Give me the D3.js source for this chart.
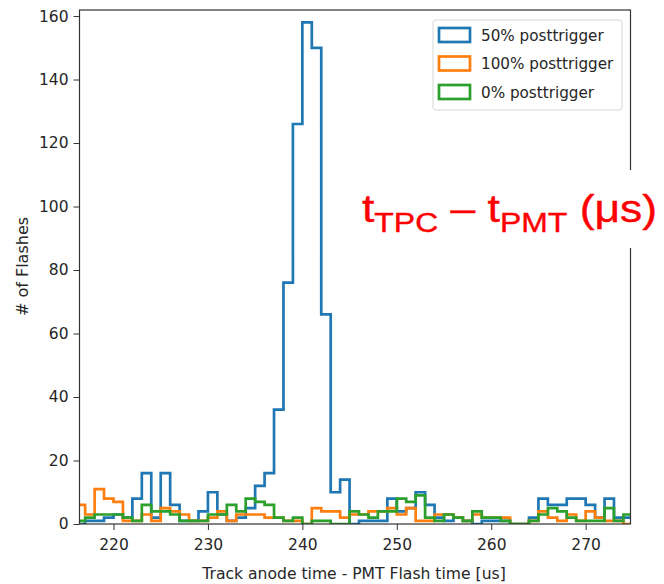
<!DOCTYPE html>
<html>
<head>
<meta charset="utf-8">
<script src="https://cdn.jsdelivr.net/npm/d3@7"></script>
<style>
    body { margin: 0; background: #fff; }
    svg { display: block; }
</style>
</head>
<body>
<svg id="chart"></svg>
<script>
"use strict";

// histogram counts per 1 us bin, first bin starts at 216 us
const binStart = 216;
const binWidth = 1;
const counts50 = [0, 1, 1, 2, 3, 2, 8, 16, 2, 16, 6, 1, 1, 4, 10, 3, 1, 2, 5, 12,
    16, 36, 76, 126, 158, 150, 66, 10, 14, 0, 1, 1, 1, 8, 4, 5, 10, 6, 2, 1,
    2, 1, 0, 1, 1, 1, 0, 0, 2, 8, 6, 6, 8, 8, 6, 2, 8, 2, 2];
const counts100 = [6, 3, 11, 8, 7, 1, 1, 3, 1, 5, 4, 3, 1, 1, 2, 4, 1, 3, 3, 3,
    2, 2, 1, 1, 0, 5, 4, 4, 2, 3, 3, 4, 4, 5, 3, 5, 1, 1, 3, 3,
    2, 1, 3, 2, 2, 2, 0, 0, 1, 4, 2, 1, 3, 1, 4, 2, 1, 1, 0];
const counts0 = [1, 2, 3, 3, 3, 2, 1, 6, 4, 4, 3, 1, 1, 1, 3, 3, 6, 4, 8, 7,
    6, 2, 1, 2, 0, 1, 1, 0, 0, 4, 3, 2, 4, 4, 8, 7, 9, 2, 1, 3,
    2, 1, 4, 2, 2, 1, 0, 0, 1, 3, 5, 4, 2, 1, 1, 1, 5, 1, 3];

const seriesNames = ["50% posttrigger", "100% posttrigger", "0% posttrigger"];
const seriesColors = ["#1f77b4", "#ff7f0e", "#2ca02c"];
const xTicks = [220, 230, 240, 250, 260, 270];
const yTicks = [0, 20, 40, 60, 80, 100, 120, 140, 160];

const width = 664;
const height = 584;
const plot = { left: 79.5, right: 630.5, top: 10, bottom: 524 };

const svg = d3.select("#chart")
    .attr("width", width)
    .attr("height", height);

const x = d3.scaleLinear().domain([216.4, 274.75]).range([plot.left, plot.right]);
const y = d3.scaleLinear().domain([0, 161.9]).range([plot.bottom, plot.top]);

svg.append("clipPath")
    .attr("id", "plot-clip")
    .append("rect")
    .attr("x", plot.left)
    .attr("y", plot.top - 2)
    .attr("width", plot.right - plot.left)
    .attr("height", plot.bottom - plot.top + 2);

// step outline like matplotlib histtype="step"
function stepPoints(counts) {
    let pts = [[binStart, 0]];
    counts.forEach((c, i) => {
        pts.push([binStart + i * binWidth, c]);
        pts.push([binStart + (i + 1) * binWidth, c]);
    });
    pts.push([binStart + counts.length * binWidth, 0]);
    return pts;
}

const line = d3.line()
    .x(d => x(d[0]))
    .y(d => y(d[1]));

const allCounts = [counts50, counts100, counts0];

svg.append("g")
    .attr("clip-path", "url(#plot-clip)")
    .selectAll("path")
    .data(allCounts)
    .enter()
    .append("path")
    .attr("d", d => line(stepPoints(d)))
    .attr("fill", "none")
    .attr("stroke", (d, i) => seriesColors[i])
    .attr("stroke-width", 2.7)
    .attr("stroke-linejoin", "miter");

// axes
const xAxis = svg.append("g")
    .attr("transform", `translate(0,${plot.bottom})`)
    .call(d3.axisBottom(x).tickValues(xTicks).tickSize(6).tickPadding(9));

const yAxis = svg.append("g")
    .attr("transform", `translate(${plot.left},0)`)
    .call(d3.axisLeft(y).tickValues(yTicks).tickSize(6).tickPadding(5));

[xAxis, yAxis].forEach(ax => {
    ax.select(".domain").remove();
    ax.selectAll("line").attr("stroke", "#333");
    ax.selectAll("text")
        .attr("fill", "#262626")
        .style("font-family", "DejaVu Sans")
        .style("font-size", "15.5px");
});

// frame
svg.append("rect")
    .attr("x", plot.left)
    .attr("y", plot.top)
    .attr("width", plot.right - plot.left)
    .attr("height", plot.bottom - plot.top)
    .attr("fill", "none")
    .attr("stroke", "#333")
    .attr("stroke-width", 1.2);

svg.append("text")
    .attr("x", 354)
    .attr("y", 579)
    .attr("text-anchor", "middle")
    .attr("fill", "#262626")
    .style("font-family", "DejaVu Sans")
    .style("font-size", "15.6px")
    .text("Track anode time - PMT Flash time [us]");

svg.append("text")
    .attr("transform", "translate(28,266.5) rotate(-90)")
    .attr("text-anchor", "middle")
    .attr("fill", "#262626")
    .style("font-family", "DejaVu Sans")
    .style("font-size", "16px")
    .text("# of Flashes");

// legend
const legend = svg.append("g").attr("transform", "translate(433,20)");
legend.append("rect")
    .attr("width", 189)
    .attr("height", 90)
    .attr("rx", 3)
    .attr("fill", "#fff")
    .attr("fill-opacity", 0.8)
    .attr("stroke", "#d6d6d6");

const items = legend.selectAll(".item")
    .data(seriesNames)
    .enter()
    .append("g")
    .attr("class", "item")
    .attr("transform", (d, i) => `translate(6,${15 + i * 28.5})`);

items.append("rect")
    .attr("x", 0)
    .attr("y", -7)
    .attr("width", 31)
    .attr("height", 14)
    .attr("fill", "none")
    .attr("stroke", (d, i) => seriesColors[i])
    .attr("stroke-width", 2.7);

items.append("text")
    .attr("x", 42)
    .attr("y", 5.5)
    .attr("fill", "#262626")
    .style("font-family", "DejaVu Sans")
    .style("font-size", "15.2px")
    .text(d => d);

// red annotation on a white box over the right spine
svg.append("rect")
    .attr("x", 355)
    .attr("y", 170)
    .attr("width", 309)
    .attr("height", 78)
    .attr("fill", "#fff");

const note = svg.append("text")
    .attr("transform", "translate(362,222) scale(1.14,1)")
    .attr("fill", "#ff0000")
    .attr("stroke", "#ff0000")
    .attr("stroke-width", 0.4)
    .style("font-family", "Liberation Sans")
    .style("font-size", "39px");

note.append("tspan").text("t");
note.append("tspan").attr("dy", 10).style("font-size", "28px").text("TPC");
note.append("tspan").attr("dy", -10).text(" – t");
note.append("tspan").attr("dy", 10).style("font-size", "28px").text("PMT");
note.append("tspan").attr("dy", -10).text(" (μs)");
</script>
</body>
</html>
